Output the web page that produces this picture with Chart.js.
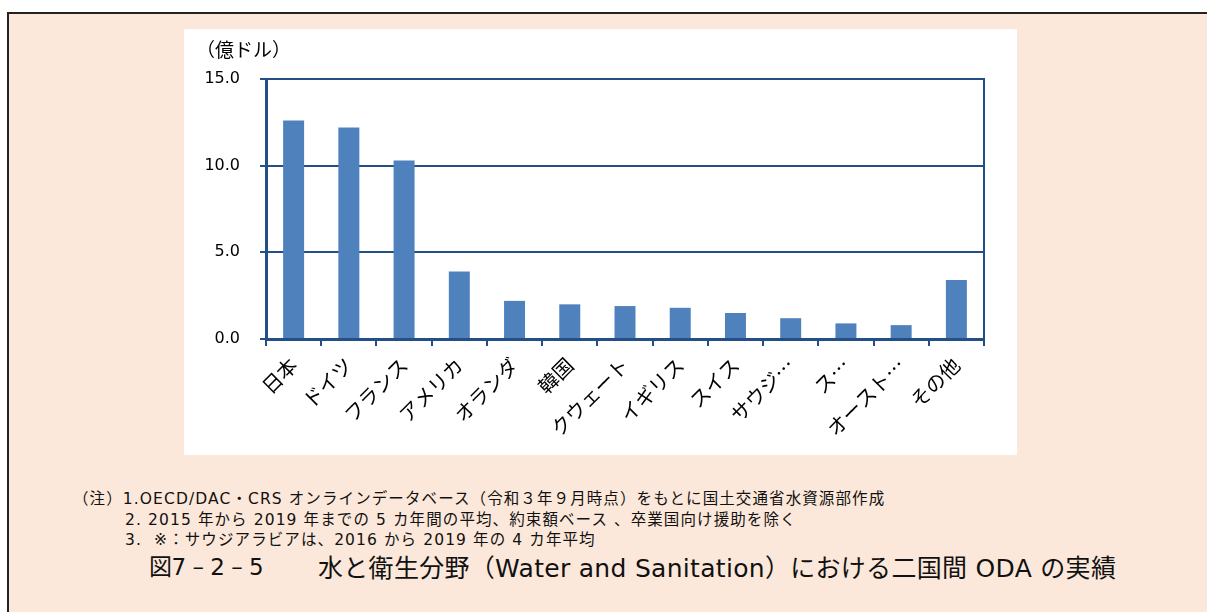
<!DOCTYPE html>
<html><head><meta charset="utf-8">
<script src="https://cdn.jsdelivr.net/npm/chart.js@4/dist/chart.umd.min.js"></script>
<style>
html,body{margin:0;padding:0;background:#fff;width:1207px;height:612px;overflow:hidden;font-family:"Noto Sans CJK JP","DejaVu Sans",sans-serif;}
#box{position:absolute;left:7px;top:12px;width:1215px;height:620px;border-left:2px solid #222;border-top:2px solid #222;background:#FCE8DA;}
#panel{position:absolute;left:184px;top:29px;width:833px;height:426px;background:#fff;}
#cv{position:absolute;left:0;top:0;}
#unit{position:absolute;left:12px;top:6px;font-size:19px;color:#000;font-family:"Noto Sans CJK JP",sans-serif;}
.note{position:absolute;font-size:15.5px;letter-spacing:1.1px;color:#111;white-space:pre;font-family:"DejaVu Sans","Noto Sans CJK JP",sans-serif;}
.t{position:absolute;top:548px;color:#111;white-space:pre;font-family:"DejaVu Sans","Noto Sans CJK JP",sans-serif;}
</style></head>
<body>
<div id="box"></div>
<div id="panel"><canvas id="cv" width="833" height="426"></canvas><div id="unit">（億ドル）</div></div>
<div class="note" style="left:73px;top:486px;">（注）1.OECD/DAC・CRS オンラインデータベース（令和３年９月時点）をもとに国土交通省水資源部作成</div>
<div class="note" style="left:125px;top:507px;">2. 2015 年から 2019 年までの 5 カ年間の平均、約束額ベース 、卒業国向け援助を除く</div>
<div class="note" style="left:125px;top:527px;">3.  ※：サウジアラビアは、2016 から 2019 年の 4 カ年平均</div>
<div class="t" style="left:149px;font-size:23px;letter-spacing:-0.5px;">図7 – 2 – 5</div>
<div class="t" style="left:318px;font-size:25px;letter-spacing:0.3px;">水と衛生分野（Water and Sanitation）における二国間 ODA の実績</div>
<script>
const categories = ["日本","ドイツ","フランス","アメリカ","オランダ","韓国","クウェート","イギリス","スイス","サウジ…","ス…","オースト…","その他"];
const values = [12.6, 12.2, 10.3, 3.9, 2.2, 2.0, 1.9, 1.8, 1.5, 1.2, 0.9, 0.8, 3.4];
const yTicks = [0, 5, 10, 15];

const axisColor = "#244E86";
const rightBorder = {
  id: "rightBorder",
  afterDatasetsDraw(chart) {
    const a = chart.chartArea, c = chart.ctx;
    c.save();
    c.strokeStyle = axisColor; c.lineWidth = 2;
    c.beginPath(); c.moveTo(a.right, a.top - 1); c.lineTo(a.right, a.bottom); c.stroke();
    c.restore();
  }
};

new Chart(document.getElementById("cv"), {
  type: "bar",
  data: { labels: categories, datasets: [{ data: values, backgroundColor: "#4F81BD", borderWidth: 0, barPercentage: 0.38, categoryPercentage: 1 }] },
  options: {
    responsive: false, animation: false,
    layout: { padding: { left: 0, right: 33, top: 50, bottom: 0 } },
    plugins: { legend: { display: false }, tooltip: { enabled: false } },
    scales: {
      x: {
        grid: { drawOnChartArea: false, color: axisColor, lineWidth: 2, tickLength: 7, offset: true },
        border: { color: axisColor, width: 3 },
        ticks: { color: "#000", font: { family: "Noto Sans CJK JP", size: 20 }, minRotation: 45, maxRotation: 45, autoSkip: false, padding: 7 },
        afterFit(s) { s.height = 116; }
      },
      y: {
        min: 0, max: 15,
        grid: { color: axisColor, lineWidth: 2, tickLength: 6 },
        border: { color: axisColor, width: 3 },
        afterBuildTicks(s) { s.ticks = yTicks.map(v => ({ value: v })); },
        ticks: { color: "#000", font: { family: "DejaVu Sans", size: 16 }, padding: 20, callback: v => Number(v).toFixed(1) },
        afterFit(s) { s.width = 82; }
      }
    }
  },
  plugins: [rightBorder]
});
</script>
</body></html>
